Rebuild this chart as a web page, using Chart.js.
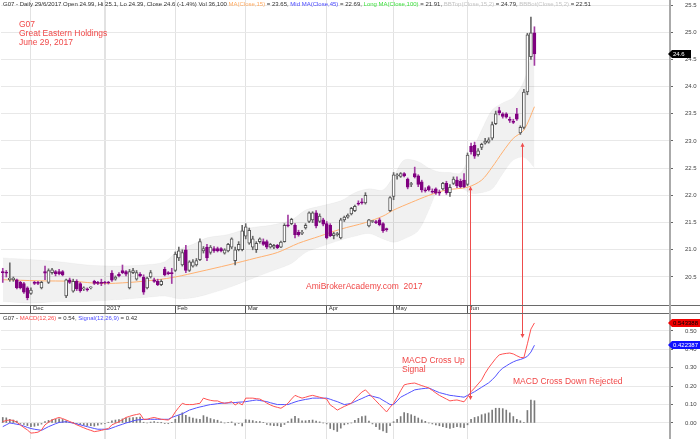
<!DOCTYPE html>
<html>
<head>
<meta charset="utf-8">
<script src="https://cdn.jsdelivr.net/npm/chart.js@4.4.1/dist/chart.umd.min.js"></script>
<style>
  html, body { margin: 0; padding: 0; background: #fff; }
  #wrap { position: relative; width: 700px; height: 439px; overflow: hidden; font-family: "Liberation Sans", Arial, sans-serif; }
  canvas { position: absolute; left: 0; }
  #price { top: 0; }
  #macd { top: 314px; }
  .hdr { position: absolute; left: 3px; font-size: 6px; line-height: 7px; color: #333; white-space: nowrap; }
  .note { position: absolute; font-size: 8.5px; line-height: 9px; color: #f04848; white-space: nowrap; }
  .sep { position: absolute; left: 0; width: 700px; height: 1px; background: #6a6a6a; }
  .vsep { position: absolute; left: 669px; width: 2px; top: 305px; height: 9px; background: #aaa; }
</style>
</head>
<body>
<div id="wrap">
  <canvas id="price" width="700" height="313"></canvas>
  <canvas id="macd" width="700" height="125"></canvas>
  <div class="sep" style="top:305px"></div>
  <div class="sep" style="top:313px"></div>
  <div class="vsep"></div>

  <div class="hdr" style="top:1px">G07 - Daily 29/6/2017 Open 24.99, Hi 25.1, Lo 24.39, Close 24.6 (-1.4%) Vol 36,100 <span style="color:#ffaa60">MA(Close,15)</span> = 23.65, <span style="color:#4848ff">Mid MA(Close,45)</span> = 22.69, <span style="color:#3ee03e">Long MA(Close,100)</span> = 21.91, <span style="color:#c4c4c4">BBTop(Close,15,2)</span> = 24.79, <span style="color:#c4c4c4">BBBot(Close,15,2)</span> = 22.51</div>
  <div class="hdr" style="top:315px">G07 - <span style="color:#ff4a4a">MACD(12,26)</span> = 0.54, <span style="color:#4a4aff">Signal(12,26,9)</span> = 0.42</div>

  <div class="note" style="left:19px;top:20px">G07<br>Great Eastern Holdings<br>June 29, 2017</div>
  <div class="note" style="left:306px;top:282px">AmiBrokerAcademy.com&nbsp; 2017</div>
  <div class="note" style="left:402px;top:356px">MACD Cross Up<br>Signal</div>
  <div class="note" style="left:513px;top:377px">MACD Cross Down Rejected</div>
</div>

<script>
// trading calendar (SGX), last bars of Nov 2016 to 29 Jun 2017
const months = ['2016-11', '2016-12', '2017-01', '2017-02', '2017-03', '2017-04', '2017-05', '2017-06'];
const novDays = [21, 22, 23, 24, 25, 28, 29, 30];
const decDays = [1, 2, 5, 6, 7, 8, 9, 12, 13, 14, 15, 16, 19, 20, 21, 22, 23, 27, 28, 29, 30];
const janDays = [3, 4, 5, 6, 9, 10, 11, 12, 13, 16, 17, 18, 19, 20, 23, 24, 25, 26, 27, 31];
const febDays = [1, 2, 3, 6, 7, 8, 9, 10, 13, 14, 15, 16, 17, 20, 21, 22, 23, 24, 27, 28];
const marDays = [1, 2, 3, 6, 7, 8, 9, 10, 13, 14, 15, 16, 17, 20, 21, 22, 23, 24, 27, 28, 29, 30, 31];
const aprDays = [3, 4, 5, 6, 7, 10, 11, 12, 13, 17, 18, 19, 20, 21, 24, 25, 26, 27, 28];
const mayDays = [2, 3, 4, 5, 8, 9, 11, 12, 15, 16, 17, 18, 19, 22, 23, 24, 25, 26, 29, 30, 31];
const junDays = [1, 2, 5, 6, 7, 8, 9, 12, 13, 14, 15, 16, 19, 20, 21, 22, 23, 27, 28, 29];
const monthTickText = ['Dec', '2017', 'Feb', 'Mar', 'Apr', 'May', 'Jun'];
const emptySlots = 38;

// price bars
const opens = [
  20.60, 20.58, 20.45, 20.45, 20.45, 20.40, 20.38, 20.30, 20.20, 20.40,
  20.40, 20.30, 20.60, 20.40, 20.58, 20.60, 20.60, 20.60, 20.15, 20.45,
  20.24, 20.42, 20.38, 20.28, 20.28, 20.30, 20.42, 20.40, 20.40, 20.40,
  20.40, 20.57, 20.46, 20.55, 20.62, 20.60, 20.30, 20.58, 20.46, 20.55,
  20.50, 20.30, 20.50, 20.45, 20.42, 20.36, 20.64, 20.58, 20.58, 20.62,
  20.85, 20.72, 21.00, 20.62, 20.70, 20.72, 20.82, 20.98, 21.05, 20.95,
  21.02, 21.02, 21.02, 20.94, 20.98, 21.05, 20.80, 21.00, 21.00, 21.25,
  21.12, 21.05, 21.00, 21.15, 21.15, 21.15, 21.05, 21.05, 21.08, 21.05,
  21.15, 21.46, 21.48, 21.45, 21.32, 21.30, 21.40, 21.52, 21.55, 21.68,
  21.52, 21.55, 21.48, 21.45, 21.26, 21.28, 21.22, 21.55, 21.60, 21.66,
  21.72, 21.86, 21.88, 21.86, 21.44, 21.52, 21.52, 21.55, 21.48, 21.38,
  21.72, 21.98, 22.36, 22.35, 22.40, 22.30, 22.20, 22.40, 22.36, 22.25,
  22.10, 22.16, 22.08, 22.12, 22.06, 22.12, 22.22, 22.05, 22.22, 22.28,
  22.26, 22.28, 22.20, 22.90, 22.92, 22.75, 22.88, 22.96, 22.98, 23.05,
  23.32, 23.56, 23.50, 23.50, 23.40, 23.36, 23.50, 23.15, 23.25, 23.90,
  24.55, 24.99
];
const highs = [
  20.66, 20.62, 20.76, 20.50, 20.46, 20.42, 20.40, 20.32, 20.30, 20.42,
  20.42, 20.42, 20.70, 20.65, 20.66, 20.62, 20.64, 20.62, 20.46, 20.48,
  20.46, 20.45, 20.40, 20.32, 20.30, 20.32, 20.44, 20.42, 20.46, 20.42,
  20.42, 20.62, 20.52, 20.58, 20.72, 20.62, 20.64, 20.66, 20.62, 20.58,
  20.54, 20.50, 20.62, 20.48, 20.46, 20.45, 20.68, 20.60, 20.66, 20.96,
  21.05, 21.00, 21.08, 20.80, 20.82, 20.84, 21.20, 21.06, 21.10, 21.08,
  21.06, 21.05, 21.04, 21.02, 21.12, 21.22, 21.05, 21.15, 21.45, 21.48,
  21.40, 21.25, 21.15, 21.22, 21.20, 21.18, 21.12, 21.10, 21.10, 21.16,
  21.48, 21.64, 21.58, 21.48, 21.36, 21.36, 21.48, 21.70, 21.70, 21.72,
  21.66, 21.58, 21.52, 21.48, 21.32, 21.32, 21.58, 21.62, 21.66, 21.78,
  21.82, 21.90, 21.94, 22.05, 21.56, 21.54, 21.54, 21.58, 21.50, 21.40,
  21.98, 22.42, 22.40, 22.42, 22.42, 22.32, 22.24, 22.52, 22.38, 22.28,
  22.14, 22.18, 22.12, 22.14, 22.10, 22.24, 22.26, 22.20, 22.34, 22.34,
  22.30, 22.40, 22.78, 22.96, 22.98, 22.86, 22.96, 23.05, 23.06, 23.35,
  23.55, 23.62, 23.52, 23.52, 23.44, 23.40, 23.60, 23.28, 23.95, 24.98,
  25.28, 25.10
];
const lows = [
  20.40, 20.50, 20.42, 20.42, 20.28, 20.28, 20.20, 20.08, 20.18, 20.36,
  20.36, 20.28, 20.45, 20.38, 20.55, 20.52, 20.54, 20.52, 20.12, 20.38,
  20.22, 20.25, 20.22, 20.25, 20.24, 20.28, 20.36, 20.36, 20.34, 20.37,
  20.37, 20.42, 20.44, 20.50, 20.56, 20.52, 20.28, 20.56, 20.44, 20.50,
  20.18, 20.28, 20.48, 20.40, 20.34, 20.34, 20.52, 20.54, 20.38, 20.60,
  20.80, 20.70, 20.58, 20.60, 20.68, 20.70, 20.80, 20.94, 20.80, 20.92,
  20.95, 20.96, 20.96, 20.92, 20.96, 21.02, 20.72, 20.98, 20.98, 21.20,
  21.10, 21.00, 20.95, 21.12, 21.08, 21.02, 21.03, 21.02, 21.02, 21.04,
  21.14, 21.42, 21.46, 21.22, 21.25, 21.28, 21.38, 21.50, 21.50, 21.40,
  21.50, 21.44, 21.20, 21.24, 21.20, 21.25, 21.20, 21.52, 21.58, 21.64,
  21.70, 21.82, 21.84, 21.84, 21.42, 21.50, 21.48, 21.44, 21.32, 21.34,
  21.70, 21.92, 22.30, 22.33, 22.34, 22.12, 22.16, 22.32, 22.16, 22.06,
  22.06, 22.08, 22.04, 22.02, 22.00, 22.10, 22.02, 21.98, 22.20, 22.14,
  22.14, 22.14, 22.18, 22.76, 22.68, 22.72, 22.84, 22.94, 22.96, 23.02,
  23.30, 23.48, 23.42, 23.42, 23.34, 23.32, 23.38, 23.12, 23.22, 23.85,
  24.50, 24.39
];
const closes = [
  20.58, 20.57, 20.48, 20.48, 20.30, 20.30, 20.22, 20.12, 20.26, 20.38,
  20.38, 20.40, 20.57, 20.62, 20.63, 20.56, 20.56, 20.54, 20.45, 20.40,
  20.42, 20.28, 20.25, 20.30, 20.26, 20.30, 20.38, 20.38, 20.38, 20.39,
  20.39, 20.44, 20.50, 20.52, 20.58, 20.55, 20.60, 20.62, 20.58, 20.52,
  20.22, 20.48, 20.58, 20.42, 20.36, 20.42, 20.54, 20.56, 20.56, 20.92,
  20.98, 20.95, 20.62, 20.78, 20.78, 20.80, 21.15, 21.02, 20.85, 21.05,
  20.98, 20.98, 20.98, 21.00, 21.10, 21.20, 21.00, 21.10, 21.35, 21.42,
  21.36, 21.20, 21.12, 21.20, 21.10, 21.05, 21.10, 21.08, 21.04, 21.14,
  21.45, 21.44, 21.56, 21.28, 21.28, 21.32, 21.45, 21.68, 21.68, 21.44,
  21.62, 21.47, 21.22, 21.26, 21.30, 21.30, 21.55, 21.60, 21.64, 21.76,
  21.80, 21.84, 21.86, 22.00, 21.55, 21.52, 21.50, 21.46, 21.35, 21.37,
  21.96, 22.38, 22.38, 22.40, 22.36, 22.15, 22.20, 22.34, 22.20, 22.10,
  22.08, 22.10, 22.06, 22.04, 22.04, 22.22, 22.05, 22.15, 22.30, 22.18,
  22.16, 22.16, 22.74, 22.80, 22.72, 22.82, 22.94, 23.00, 23.02, 23.30,
  23.50, 23.52, 23.45, 23.44, 23.38, 23.34, 23.40, 23.25, 23.90, 24.95,
  24.99, 24.60
];

// MA(Close,15) and Bollinger bands, read at these bar numbers
const maAt = [0, 10, 20, 28, 36, 44, 49, 56, 64, 72, 78, 84, 90, 96, 103, 108, 111, 116, 121, 126, 132, 136, 139, 142, 145, 148, 151];
const maVal = [20.45, 20.43, 20.42, 20.38, 20.40, 20.45, 20.50, 20.60, 20.72, 20.85, 20.95, 21.12, 21.25, 21.38, 21.50, 21.62, 21.73, 21.87, 22.00, 22.10, 22.15, 22.28, 22.52, 22.80, 23.05, 23.20, 23.63];
const bbAt = [0, 8, 16, 24, 32, 40, 46, 50, 54, 58, 64, 70, 76, 82, 86, 90, 96, 100, 104, 108, 111, 114, 118, 121, 124, 127, 130, 133, 136, 139, 142, 145, 148, 151];
const bbTop = [20.85, 20.82, 20.78, 20.72, 20.70, 20.72, 20.78, 21.00, 21.10, 21.22, 21.28, 21.40, 21.45, 21.55, 21.73, 21.80, 21.90, 22.05, 22.12, 22.10, 22.35, 22.65, 22.62, 22.50, 22.43, 22.42, 22.41, 22.78, 23.20, 23.57, 23.70, 23.80, 24.10, 24.79];
const bbBot = [20.05, 20.02, 20.05, 20.05, 20.08, 20.12, 20.15, 20.10, 20.12, 20.18, 20.30, 20.45, 20.60, 20.75, 20.95, 21.05, 21.18, 21.25, 21.30, 21.20, 21.14, 21.20, 21.35, 21.73, 22.15, 22.16, 22.14, 22.04, 22.05, 22.12, 22.40, 22.65, 22.70, 22.51];

// MACD(12,26), Signal(12,26,9) and histogram, one value per bar
const macd = [
  0.007, 0.014, 0.016, 0.014, 0.004, -0.011, -0.025, -0.038, -0.055, -0.053,
  -0.05, -0.038, -0.01, 0.004, 0.016, 0.024, 0.03, 0.024, 0.016, 0.008,
  0, -0.01, -0.018, -0.026, -0.034, -0.04, -0.047, -0.044, -0.04, -0.035,
  -0.03, -0.01, -0.002, 0.007, 0.018, 0.03, 0.036, 0.042, 0.046, 0.05,
  0.02, 0.02, 0.026, 0.03, 0.025, 0.02, 0.018, 0.016, 0.03, 0.06,
  0.085, 0.107, 0.1, 0.1, 0.1, 0.104, 0.107, 0.135, 0.128, 0.123,
  0.12, 0.12, 0.112, 0.107, 0.11, 0.116, 0.098, 0.11, 0.098, 0.135,
  0.135, 0.135, 0.132, 0.13, 0.12, 0.108, 0.098, 0.09, 0.085, 0.08,
  0.092, 0.107, 0.13, 0.15, 0.142, 0.135, 0.14, 0.146, 0.15, 0.145,
  0.14, 0.135, 0.13, 0.098, 0.085, 0.07, 0.08, 0.09, 0.098, 0.107,
  0.13, 0.15, 0.168, 0.18, 0.16, 0.14, 0.12, 0.1, 0.08, 0.06,
  0.085, 0.107, 0.14, 0.175, 0.207, 0.212, 0.215, 0.217, 0.21, 0.203,
  0.197, 0.19, 0.177, 0.163, 0.15, 0.14, 0.13, 0.12, 0.123, 0.125,
  0.12, 0.115, 0.14, 0.17, 0.19, 0.212, 0.234, 0.27, 0.3, 0.325,
  0.35, 0.37, 0.375, 0.378, 0.38, 0.375, 0.365, 0.356, 0.355, 0.43,
  0.51, 0.543388
];
const signal = [
  -0.02, -0.01, 0, -0.003, -0.007, -0.01, -0.017, -0.024, -0.03, -0.034,
  -0.037, -0.04, -0.03, -0.02, -0.012, -0.004, 0.003, 0.005, 0.007, 0.003,
  -0.001, -0.005, -0.01, -0.015, -0.02, -0.025, -0.03, -0.034, -0.034, -0.034,
  -0.034, -0.027, -0.02, -0.013, -0.007, 0, 0.005, 0.011, 0.016, 0.018,
  0.019, 0.02, 0.02, 0.02, 0.02, 0.02, 0.02, 0.02, 0.03, 0.037,
  0.044, 0.05, 0.06, 0.07, 0.076, 0.082, 0.087, 0.091, 0.096, 0.1,
  0.102, 0.105, 0.107, 0.108, 0.109, 0.11, 0.111, 0.113, 0.114, 0.116,
  0.119, 0.122, 0.125, 0.122, 0.119, 0.116, 0.11, 0.105, 0.1, 0.1,
  0.1, 0.1, 0.107, 0.114, 0.12, 0.124, 0.128, 0.131, 0.135, 0.135,
  0.135, 0.135, 0.135, 0.129, 0.122, 0.116, 0.108, 0.1, 0.103, 0.107,
  0.116, 0.125, 0.133, 0.142, 0.15, 0.145, 0.14, 0.135, 0.123, 0.112,
  0.1, 0.1, 0.12, 0.14, 0.15, 0.16, 0.17, 0.18, 0.183, 0.186,
  0.188, 0.19, 0.182, 0.173, 0.165, 0.16, 0.155, 0.15, 0.148, 0.145,
  0.143, 0.14, 0.15, 0.16, 0.17, 0.182, 0.194, 0.206, 0.218, 0.235,
  0.255, 0.28, 0.298, 0.31, 0.322, 0.332, 0.34, 0.345, 0.352, 0.362,
  0.385, 0.422387
];
const histogram = [
  0.03, 0.028, 0.02, 0.016, 0.01, -0.002, -0.008, -0.014, -0.02, -0.018,
  -0.013, -0.006, 0.008, 0.014, 0.018, 0.02, 0.022, 0.019, 0.012, 0.005,
  0.001, -0.005, -0.008, -0.011, -0.014, -0.015, -0.017, -0.012, -0.006, -0.002,
  0.004, 0.012, 0.016, 0.018, 0.022, 0.026, 0.028, 0.03, 0.03, 0.032,
  0.004, 0, 0.005, 0.008, 0.004, 0.001, -0.002, -0.004, 0.002, 0.02,
  0.04, 0.055, 0.042, 0.032, 0.026, 0.022, 0.02, 0.04, 0.032, 0.024,
  0.018, 0.015, 0.006, 0, 0.002, 0.006, -0.012, -0.003, -0.016, 0.018,
  0.016, 0.013, 0.008, 0.008, 0.002, -0.008, -0.012, -0.015, -0.015, -0.02,
  -0.008, 0.007, 0.022, 0.036, 0.024, 0.012, 0.012, 0.015, 0.016, 0.01,
  0.006, 0, -0.005, -0.03, -0.037, -0.046, -0.028, -0.01, -0.005, 0,
  0.014, 0.025, 0.035, 0.038, 0.01, -0.005, -0.02, -0.035, -0.043, -0.052,
  -0.015, 0.007, 0.02, 0.035, 0.057, 0.052, 0.045, 0.037, 0.027, 0.017,
  0.009, 0, -0.005, -0.01, -0.015, -0.02, -0.025, -0.03, -0.025, -0.02,
  -0.023, -0.025, -0.01, 0.02, 0.03, 0.035, 0.045, 0.05, 0.055, 0.07,
  0.08, 0.08, 0.078, 0.07, 0.055, 0.035, 0.02, 0.012, 0.003, 0.068,
  0.125, 0.121
];

const priceTicks = [20.5, 21.0, 21.5, 22.0, 22.5, 23.0, 23.5, 24.0, 24.5, 25.0, 25.5];
const macdTicks = [0, 0.1, 0.2, 0.3, 0.4, 0.5];

// hand drawn arrows: bar number, price at the top end, MACD value at the bottom end
const arrows = [
  { at: 132.7, fromPrice: 22.15, toMacd: 0.13 },
  { at: 147.5, fromPrice: 22.95, toMacd: 0.467 }
];

// ---- build labels
const dayLists = [novDays, decDays, janDays, febDays, marDays, aprDays, mayDays, junDays];
const dates = [];
const monthStart = [];
months.forEach((m, k) => {
  if (k > 0) monthStart.push(dates.length);
  dayLists[k].forEach(d => dates.push(m + '-' + String(d).padStart(2, '0')));
});
const labels = dates.concat(Array.from({ length: emptySlots }, (_, k) => 'next' + (k + 1)));

const FONT = '"Liberation Sans", Arial, sans-serif';
Chart.defaults.font.family = FONT;
Chart.defaults.font.size = 6;
Chart.defaults.color = '#333';

const purple = '#800080';
const up = closes.map((c, i) => c >= opens[i]);
const bodies = opens.map((o, i) => [o, closes[i]]);
const wicks = lows.map((l, i) => [l, highs[i]]);

function pts(at, vals) { return at.map((i, k) => ({ x: dates[i], y: vals[k] })); }

function monthGrid(extra) {
  return Object.assign({
    offset: false,
    color: '#e2e2e2',
    lineWidth: ctx => (ctx.tick && ctx.tick.value === monthStart[1]) ? 2 : 1
  }, extra);
}

function arrowPlugin(pane) {
  return {
    id: 'arrows_' + pane,
    afterDatasetsDraw(chart) {
      const ctx = chart.ctx, xs = chart.scales.x, ys = chart.scales.y;
      ctx.save();
      ctx.strokeStyle = '#ee4c4c';
      ctx.fillStyle = '#ee4c4c';
      ctx.lineWidth = 1;
      arrows.forEach(a => {
        const x = Math.round(xs.getPixelForValue(a.at)) + 0.5;
        let y0, y1;
        if (pane === 'price') { y0 = ys.getPixelForValue(a.fromPrice); y1 = chart.height; }
        else { y0 = 0; y1 = ys.getPixelForValue(a.toMacd); }
        ctx.beginPath(); ctx.moveTo(x, y0); ctx.lineTo(x, y1); ctx.stroke();
        ctx.beginPath();
        if (pane === 'price') {
          ctx.moveTo(x, y0 - 1); ctx.lineTo(x - 2, y0 + 3); ctx.lineTo(x + 2, y0 + 3);
        } else {
          ctx.moveTo(x, y1 + 1); ctx.lineTo(x - 2, y1 - 3); ctx.lineTo(x + 2, y1 - 3);
        }
        ctx.closePath(); ctx.fill();
      });
      ctx.restore();
    }
  };
}

function badgePlugin(id, items) {
  return {
    id: id,
    afterDraw(chart) {
      const ctx = chart.ctx, ys = chart.scales.y, left = chart.chartArea.right + 1;
      ctx.save();
      items().forEach(b => {
        const py = Math.round(ys.getPixelForValue(b.value));
        ctx.fillStyle = b.bg;
        ctx.beginPath();
        ctx.moveTo(left - 3, py);
        ctx.lineTo(left + 1, py - 4);
        ctx.lineTo(left + 1 + b.w, py - 4);
        ctx.lineTo(left + 1 + b.w, py + 4);
        ctx.lineTo(left + 1, py + 4);
        ctx.closePath();
        ctx.fill();
        ctx.fillStyle = b.fg;
        ctx.font = '6px ' + FONT;
        ctx.textBaseline = 'middle';
        ctx.textAlign = 'left';
        ctx.fillText(b.text, left + 2, py + 0.5);
      });
      ctx.restore();
    }
  };
}

const last = closes.length - 1;

new Chart(document.getElementById('price'), {
  type: 'bar',
  data: {
    labels: labels,
    datasets: [
      {
        type: 'bar', label: 'Body', data: bodies, grouped: false, order: 1,
        backgroundColor: up.map(u => u ? '#ffffff' : purple),
        borderColor: up.map(u => u ? '#555555' : purple),
        borderWidth: 1, borderSkipped: false, barThickness: 3, minBarLength: 1
      },
      {
        type: 'bar', label: 'Wick', data: wicks, grouped: false, order: 2,
        backgroundColor: up.map(u => u ? '#6a6a6a' : '#a23ca2'),
        barThickness: 1
      },
      {
        type: 'line', label: 'MA(Close,15)', data: pts(maAt, maVal), order: 3,
        borderColor: '#ffb070', borderWidth: 1, pointRadius: 0, tension: 0.3
      },
      {
        type: 'line', label: 'BBTop', data: pts(bbAt, bbTop), order: 4,
        borderColor: 'rgba(0,0,0,0.03)', borderWidth: 1, pointRadius: 0, tension: 0.3,
        fill: '+1', backgroundColor: 'rgba(0,0,0,0.055)'
      },
      {
        type: 'line', label: 'BBBot', data: pts(bbAt, bbBot), order: 5,
        borderColor: 'rgba(0,0,0,0.03)', borderWidth: 1, pointRadius: 0, tension: 0.3
      }
    ]
  },
  options: {
    responsive: false, animation: false, devicePixelRatio: 1, events: [],
    layout: { padding: { left: 1, right: 0, top: 0, bottom: 0 } },
    plugins: { legend: { display: false }, tooltip: { enabled: false } },
    scales: {
      x: {
        type: 'category', offset: true,
        grid: monthGrid({ drawTicks: true, tickLength: 8, tickColor: '#555', tickWidth: 1 }),
        border: { display: false },
        ticks: {
          autoSkip: false, maxRotation: 0, minRotation: 0, align: 'start',
          padding: -8, labelOffset: 2, color: '#333', font: { size: 6 },
          callback: v => monthTickText[monthStart.indexOf(v)]
        },
        afterBuildTicks: s => { s.ticks = monthStart.map(i => ({ value: i })); },
        afterFit: s => { s.height = 8; s.paddingLeft = 0; s.paddingRight = 0; }
      },
      y: {
        position: 'right', min: 19.985, max: 25.592,
        grid: { color: '#e8e8e8', drawTicks: true, tickLength: 3, tickColor: '#666' },
        border: { display: true, color: '#aaa', width: 2 },
        ticks: { padding: 12, color: '#444', font: { size: 6 }, callback: v => v.toFixed(1) },
        afterBuildTicks: s => { s.ticks = priceTicks.map(v => ({ value: v })); },
        afterFit: s => { s.width = 30; s.paddingTop = 0; s.paddingBottom = 0; }
      }
    }
  },
  plugins: [
    arrowPlugin('price'),
    badgePlugin('closeBadge', () => [{ value: closes[last], text: String(closes[last]), bg: '#000', fg: '#fff', w: 19 }])
  ]
});

new Chart(document.getElementById('macd'), {
  type: 'bar',
  data: {
    labels: labels,
    datasets: [
      { type: 'line', label: 'MACD(12,26)', data: macd, order: 1, borderColor: '#ff5252', borderWidth: 1, pointRadius: 0 },
      { type: 'line', label: 'Signal(12,26,9)', data: signal, order: 2, borderColor: '#5252ff', borderWidth: 1, pointRadius: 0 },
      { type: 'bar', label: 'Histogram', data: histogram, order: 3, backgroundColor: '#7a7a7a', barThickness: 1 }
    ]
  },
  options: {
    responsive: false, animation: false, devicePixelRatio: 1, events: [],
    layout: { padding: { left: 1, right: 0, top: 0, bottom: 0 } },
    plugins: { legend: { display: false }, tooltip: { enabled: false } },
    scales: {
      x: {
        type: 'category', offset: true,
        grid: monthGrid({ drawTicks: false }),
        border: { display: false },
        ticks: { display: false },
        afterBuildTicks: s => { s.ticks = monthStart.map(i => ({ value: i })); },
        afterFit: s => { s.height = 0; s.paddingLeft = 0; s.paddingRight = 0; }
      },
      y: {
        position: 'right', min: -0.087, max: 0.592,
        grid: { color: '#e8e8e8', drawTicks: true, tickLength: 3, tickColor: '#666' },
        border: { display: true, color: '#aaa', width: 2 },
        ticks: { padding: 12, color: '#444', font: { size: 6 }, callback: v => v.toFixed(2) },
        afterBuildTicks: s => { s.ticks = macdTicks.map(v => ({ value: v })); },
        afterFit: s => { s.width = 30; s.paddingTop = 0; s.paddingBottom = 0; }
      }
    }
  },
  plugins: [
    arrowPlugin('macd'),
    badgePlugin('macdBadges', () => [
      { value: macd[last], text: macd[last].toFixed(6), bg: '#f00000', fg: '#000', w: 40 },
      { value: signal[last], text: signal[last].toFixed(6), bg: '#1010ff', fg: '#fff', w: 40 }
    ])
  ]
});
</script>
</body>
</html>
